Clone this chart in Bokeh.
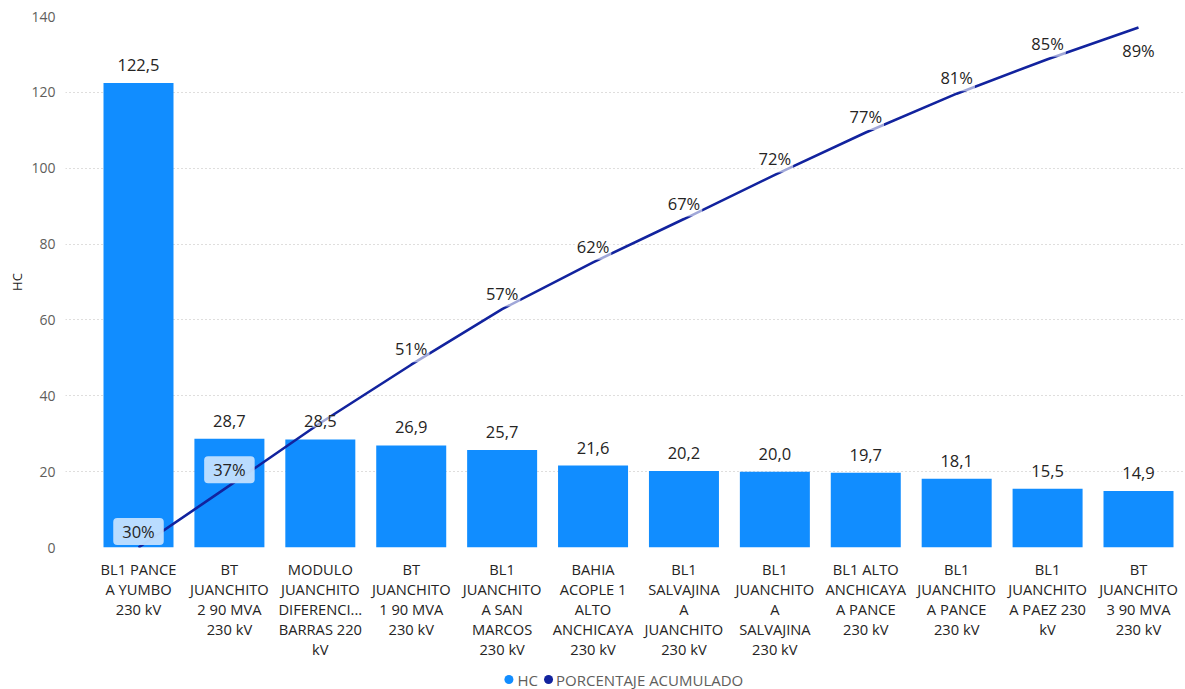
from bokeh.plotting import figure
from bokeh.layouts import column
from bokeh.models import (Range1d, FixedTicker, ColumnDataSource, LabelSet, Label)
from bokeh.core.properties import value
from bokeh.embed import file_html
from bokeh.resources import INLINE

# ---- data ----
categories = [
    "BL1 PANCE\nA YUMBO\n230 kV",
    "BT\nJUANCHITO\n2 90 MVA\n230 kV",
    "MODULO\nJUANCHITO\nDIFERENCI...\nBARRAS 220\nkV",
    "BT\nJUANCHITO\n1 90 MVA\n230 kV",
    "BL1\nJUANCHITO\nA SAN\nMARCOS\n230 kV",
    "BAHIA\nACOPLE 1\nALTO\nANCHICAYA\n230 kV",
    "BL1\nSALVAJINA\nA\nJUANCHITO\n230 kV",
    "BL1\nJUANCHITO\nA\nSALVAJINA\n230 kV",
    "BL1 ALTO\nANCHICAYA\nA PANCE\n230 kV",
    "BL1\nJUANCHITO\nA PANCE\n230 kV",
    "BL1\nJUANCHITO\nA PAEZ 230\nkV",
    "BT\nJUANCHITO\n3 90 MVA\n230 kV",
]
hc = [122.5, 28.7, 28.5, 26.9, 25.7, 21.6, 20.2, 20.0, 19.7, 18.1, 15.5, 14.9]
hc_labels = ["122,5", "28,7", "28,5", "26,9", "25,7", "21,6", "20,2", "20,0", "19,7", "18,1", "15,5", "14,9"]
pct = [30.1, 37.1, 44.2, 50.8, 57.1, 62.4, 67.3, 72.3, 77.1, 81.5, 85.4, 89.0]
pct_labels = ["30%", "37%", "", "51%", "57%", "62%", "67%", "72%", "77%", "81%", "85%", "89%"]
y_ticks = [0, 20, 40, 60, 80, 100, 120, 140]
legend_labels = ["HC", "PORCENTAJE ACUMULADO"]

FONT = "Open Sans"
BAR = "#118DFF"
LINE = "#12239E"
TXT = "#252423"
SUB = "#605E5C"

idx = list(range(len(categories)))

p = figure(width=1185, height=661, output_backend="svg", toolbar_location=None,
           x_range=Range1d(-0.803, 11.495), y_range=Range1d(0, 140),
           min_border_left=65, min_border_right=2, min_border_top=16,
           min_border_bottom=113)
p.outline_line_color = None
p.background_fill_color = "white"
p.border_fill_color = "white"
p.extra_y_ranges = {"pct": Range1d(30.1, 90.24)}

src = ColumnDataSource(dict(x=idx, hc=hc, hc_lab=hc_labels, pct=pct, pct_lab=pct_labels))

p.vbar(x="x", top="hc", width=0.77, source=src, color=BAR, line_color=None)
p.line(x="x", y="pct", source=src, y_range_name="pct", color=LINE, line_width=2.6)

# bar value labels
p.add_layout(LabelSet(x="x", y="hc", text="hc_lab", source=src, y_offset=12,
                      text_align="center", text_baseline="bottom",
                      text_font=value(FONT), text_font_size=value("16.5px"),
                      text_color=value(TXT),
                      background_fill_color="white", background_fill_alpha=0.6))

# percentage labels
for i, (v, lab) in enumerate(zip(pct, pct_labels)):
    if not lab:
        continue
    on_bar = i < 2
    below = i == len(pct) - 1
    p.add_layout(Label(x=i, y=v, y_range_name="pct", text=lab,
                       y_offset=(-23 if below else 16),
                       text_align="center", text_baseline="middle",
                       text_font=FONT, text_font_size="16.5px", text_color=TXT,
                       background_fill_color=("#C3E0FF" if on_bar else "white"),
                       background_fill_alpha=(0.95 if on_bar else 0.6),
                       padding=((9, 2) if on_bar else 2), border_radius=4))

# axes
xa = p.xaxis[0]
xa.ticker = FixedTicker(ticks=idx)
xa.major_label_overrides = {i: c for i, c in zip(idx, categories)}
xa.axis_line_color = None
xa.major_tick_line_color = None
xa.minor_tick_line_color = None
xa.major_label_standoff = 5
xa.major_label_text_font = FONT
xa.major_label_text_font_size = "14.7px"
xa.major_label_text_color = TXT
xa.major_label_text_line_height = 1.0

ya = p.yaxis[0]
ya.ticker = FixedTicker(ticks=y_ticks)
ya.axis_line_color = None
ya.major_tick_line_color = None
ya.minor_tick_line_color = None
ya.major_tick_out = 0
ya.major_tick_in = 0
ya.major_label_standoff = 10
ya.major_label_text_font = FONT
ya.major_label_text_font_size = "14px"
ya.major_label_text_color = SUB
ya.axis_label = "HC"
ya.axis_label_text_font = FONT
ya.axis_label_text_font_size = "13px"
ya.axis_label_text_font_style = "normal"
ya.axis_label_text_color = TXT
ya.axis_label_standoff = 2

p.xgrid.grid_line_color = None
p.ygrid.grid_line_color = "#BEBCBA"
p.ygrid.grid_line_dash = "1 3"
p.ygrid.grid_line_width = 1

# ---- legend strip below the chart ----
lf = figure(width=1185, height=28, output_backend="svg", toolbar_location=None,
            x_range=Range1d(0, 1185), y_range=Range1d(0, 28),
            x_axis_type=None, y_axis_type=None,
            min_border=0, min_border_left=0, min_border_right=0,
            min_border_top=0, min_border_bottom=0)
lf.grid.visible = False
lf.outline_line_color = None
lf.background_fill_color = "white"
lf.border_fill_color = "white"
leg_src = ColumnDataSource(dict(
    cx=[470, 512], tx=[479, 520], y=[10, 10],
    color=[BAR, LINE], label=legend_labels))
lf.scatter(x="cx", y="y", source=leg_src, marker="circle", size=9,
           color="color", line_color=None)
lf.text(x="tx", y="y", text="label", source=leg_src, text_font=value(FONT),
        text_font_size=value("15px"), text_color=value(SUB),
        text_align="left", text_baseline="middle")

open("out.html", "w").write(file_html(column(p, lf, spacing=0), INLINE))
